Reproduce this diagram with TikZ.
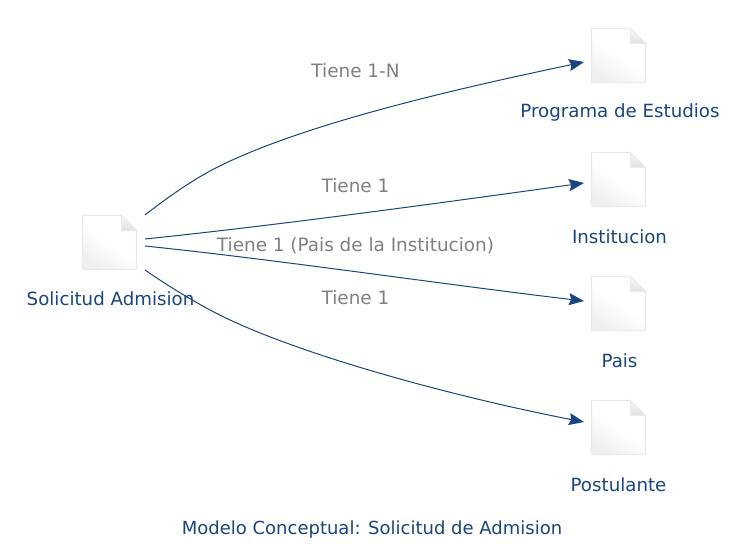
\documentclass[tikz,border=0pt]{standalone}
\usepackage{fontspec}
\setmainfont{DejaVu Sans}
\usetikzlibrary{arrows.meta,shadings}
\definecolor{navy}{HTML}{1B4580}
\definecolor{lab}{HTML}{808080}
\tikzset{
  iconbox/.style={minimum width=54pt,minimum height=54pt,inner sep=0pt,outer sep=0pt},
  name text/.style={text=navy,font=\fontsize{18.2pt}{20pt}\selectfont,inner sep=0pt},
  title text/.style={text=navy,font=\fontsize{18pt}{20pt}\selectfont,inner sep=0pt},
  edge text/.style={text=lab,font=\fontsize{18.4pt}{20pt}\selectfont,inner sep=0pt},
  conn/.style={draw=navy,line width=1pt,-{Stealth[length=15pt,width=12pt,inset=2pt]}}
}
\newcommand{\docicon}[2]{%
  \node[iconbox] (#1) at (#2) {};
  \draw[black!8,line width=1.4pt,top color=white,bottom color=black!6,middle color=white,shading angle=-35]
    (#1.north west) -- ++(39pt,0) -- ++(15pt,-15pt) -- (#1.south east) -- (#1.south west) -- cycle;
  \draw[black!8,line width=1.0pt,top color=black!2,bottom color=black!12]
    ([xshift=39pt]#1.north west) -- ++(15pt,-15pt) -- ++(-15pt,0) -- cycle;
}
\begin{document}
\begin{tikzpicture}[x=1pt,y=-1pt]
\useasboundingbox (0,0) rectangle (745,551);
\fill[white] (0,0) rectangle (745,551);
\docicon{solicitud}{109.5,242.5}
\docicon{programa}{618.5,55.5}
\docicon{institucion}{618.5,179.5}
\docicon{pais}{618.5,303.5}
\docicon{postulante}{618.5,427.5}
\node[name text] (t0) at (110.5,298.5) {Solicitud Admision};
\node[name text] (t1) at (620,112.5) {Programa de Estudios};
\node[name text] (t2) at (619.5,236.5) {Institucion};
\node[name text] (t3) at (619.5,360.5) {Pais};
\node[name text] (t4) at (618.5,484.5) {Postulante};
\node[title text] (title) at (372,530) {Modelo Conceptual: Solicitud de Admision};
\coordinate (a1) at (145,215);
\coordinate (a2) at (145,239);
\coordinate (a3) at (145,246);
\coordinate (a4) at (145,270);
\coordinate (b1) at (584,62);
\coordinate (b2) at (584,183);
\coordinate (b3) at (584,301);
\coordinate (b4) at (584,422);
\draw[conn] (a1) .. controls (168,197) and (190,182) .. (210,171) .. controls (296,125) and (460,88) .. (b1);
\draw[conn] (a2) .. controls (280,225) and (440,203) .. (b2);
\draw[conn] (a3) .. controls (280,260) and (440,284) .. (b3);
\draw[conn] (a4) .. controls (168,286) and (190,299) .. (210,310) .. controls (292,354) and (460,398) .. (b4);
\node[edge text] (l1) at (355.5,70.5) {Tiene 1-N};
\node[edge text] (l2) at (355.5,185.5) {Tiene 1};
\node[edge text] (l3) at (355.5,245.5) {Tiene 1 (Pais de la Institucion)};
\node[edge text] (l4) at (355.5,297.5) {Tiene 1};
\end{tikzpicture}
\end{document}
